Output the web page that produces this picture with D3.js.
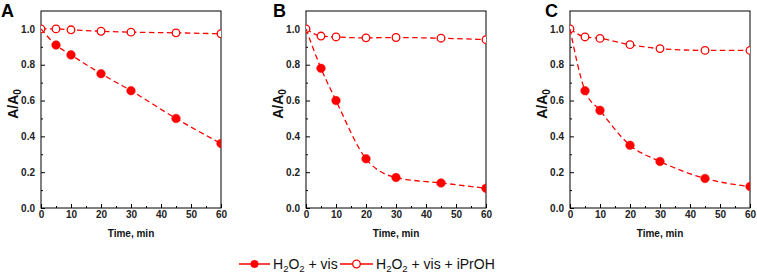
<!DOCTYPE html>
<html><head><meta charset="utf-8">
<script src="https://cdn.jsdelivr.net/npm/d3@7"></script>
<style>body{margin:0;background:#fff}svg{display:block}</style>
</head><body><svg id="c" width="757" height="276"></svg>
<script>
const times = [0, 5, 10, 20, 30, 45, 60];
const panelLabels = ["A", "B", "C"];
const seriesNames = ["H2O2 + vis", "H2O2 + vis + iPrOH"];
const visA = [1.0, 0.91, 0.855, 0.75, 0.655, 0.50, 0.36];
const iprA = [1.0, 1.0, 0.995, 0.987, 0.982, 0.978, 0.973];
const visB = [1.0, 0.78, 0.60, 0.275, 0.17, 0.14, 0.11];
const iprB = [1.0, 0.96, 0.955, 0.95, 0.952, 0.948, 0.94];
const visC = [1.0, 0.655, 0.545, 0.35, 0.26, 0.165, 0.12];
const iprC = [1.0, 0.955, 0.947, 0.912, 0.89, 0.88, 0.88];
const xTicks = [0, 10, 20, 30, 40, 50, 60];
const yTicks = [0.0, 0.2, 0.4, 0.6, 0.8, 1.0];

const panels = [
  {label: panelLabels[0], vis: visA, ipr: iprA, left: 41, letterX: 1},
  {label: panelLabels[1], vis: visB, ipr: iprB, left: 306, letterX: 273},
  {label: panelLabels[2], vis: visC, ipr: iprC, left: 570, letterX: 545}
];
const W = 180, plotTop = 11, plotBottom = 208;
const red = "#ff0000";
const svg = d3.select("#c");
const font = "Arial, 'Liberation Sans', sans-serif";

panels.forEach((p, i) => {
  const x = d3.scaleLinear().domain([0, 60]).range([p.left, p.left + W]);
  const y = d3.scaleLinear().domain([0, 1.1]).range([plotBottom, plotTop]);
  const g = svg.append("g");
  const cid = "clip" + i;
  svg.append("clipPath").attr("id", cid).append("rect")
    .attr("x", p.left).attr("y", plotTop).attr("width", W).attr("height", plotBottom - plotTop);

  g.append("rect").attr("x", p.left).attr("y", plotTop).attr("width", W).attr("height", plotBottom - plotTop)
    .attr("fill", "none").attr("stroke", "#000").attr("stroke-width", 1);

  const xa = g.append("g").attr("transform", `translate(0,${plotBottom})`)
    .call(d3.axisBottom(x).tickValues(xTicks).tickSizeInner(-4).tickSizeOuter(0).tickPadding(4).tickFormat(d3.format("d")));
  xa.select(".domain").remove();
  xa.selectAll("text").attr("font-family", font).attr("font-weight", "bold").attr("font-size", 10).attr("fill", "#222")
    .attr("dy", "0.71em").attr("y", 3);
  const xm = g.append("g").attr("transform", `translate(0,${plotBottom})`)
    .call(d3.axisBottom(x).tickValues(d3.range(5, 60, 10)).tickSizeInner(-2).tickSizeOuter(0).tickFormat(""));
  xm.select(".domain").remove();

  const ya = g.append("g").attr("transform", `translate(${p.left},0)`)
    .call(d3.axisLeft(y).tickValues(yTicks).tickSizeInner(-4).tickSizeOuter(0).tickPadding(6).tickFormat(d3.format(".1f")));
  ya.select(".domain").remove();
  ya.selectAll("text").attr("font-family", font).attr("font-weight", "bold").attr("font-size", 10).attr("fill", "#222");
  const ym = g.append("g").attr("transform", `translate(${p.left},0)`)
    .call(d3.axisLeft(y).tickValues(d3.range(0.1, 1.1, 0.2)).tickSizeInner(-2).tickSizeOuter(0).tickFormat(""));
  ym.select(".domain").remove();

  const yt = g.append("text").attr("transform", `translate(${p.left - 23},104) rotate(-90)`)
    .attr("text-anchor", "middle").attr("font-family", font).attr("font-weight", "bold").attr("font-size", 14).attr("fill", "#111");
  yt.append("tspan").text("A/A");
  yt.append("tspan").attr("font-size", 10).attr("dy", 3).text("0");

  g.append("text").attr("x", p.left + W / 2).attr("y", 237).attr("text-anchor", "middle")
    .attr("font-family", font).attr("font-weight", "bold").attr("font-size", 10).attr("fill", "#111").text("Time, min");

  g.append("text").attr("x", p.letterX).attr("y", 17)
    .attr("font-family", font).attr("font-weight", "bold").attr("font-size", 18).attr("fill", "#000").text(p.label);

  const line = d3.line().x(d => x(d[0])).y(d => y(d[1])).curve(d3.curveMonotoneX);
  const pg = g.append("g").attr("clip-path", `url(#${cid})`);
  [[p.ipr, false], [p.vis, true]].forEach(([vals, filled]) => {
    const data = times.map((t, k) => [t, vals[k]]);
    pg.append("path").attr("d", line(data)).attr("fill", "none").attr("stroke", red)
      .attr("stroke-width", 1.3).attr("stroke-dasharray", "5.5,3.5");
    pg.selectAll(null).data(filled ? data.slice(1) : data).enter().append("circle")
      .attr("cx", d => x(d[0])).attr("cy", d => y(d[1])).attr("r", filled ? 4.3 : 3.8)
      .attr("fill", filled ? red : "#fff").attr("stroke", red).attr("stroke-width", filled ? 0.5 : 1.3);
  });
});

const lg = svg.append("g");
const items = [
  {x0: 239, x1: 270, filled: true, tx: 273, name: seriesNames[0]},
  {x0: 340, x1: 373, filled: false, tx: 376, name: seriesNames[1]}
];
items.forEach(it => {
  lg.append("line").attr("x1", it.x0).attr("x2", it.x1).attr("y1", 264).attr("y2", 264)
    .attr("stroke", red).attr("stroke-width", 1.5);
  lg.append("circle").attr("cx", (it.x0 + it.x1) / 2).attr("cy", 264).attr("r", 3.8)
    .attr("fill", it.filled ? red : "#fff").attr("stroke", red).attr("stroke-width", it.filled ? 0.5 : 1.3);
  const t = lg.append("text").attr("x", it.tx).attr("y", 269).attr("font-family", font)
    .attr("font-size", 14).attr("fill", "#111");
  const parts = it.name.split("H2O2");
  t.append("tspan").text("H");
  t.append("tspan").attr("font-size", 9.5).attr("dy", 3).text("2");
  t.append("tspan").attr("dy", -3).text("O");
  t.append("tspan").attr("font-size", 9.5).attr("dy", 3).text("2");
  t.append("tspan").attr("dy", -3).text(parts[1]);
});
</script></body></html>
